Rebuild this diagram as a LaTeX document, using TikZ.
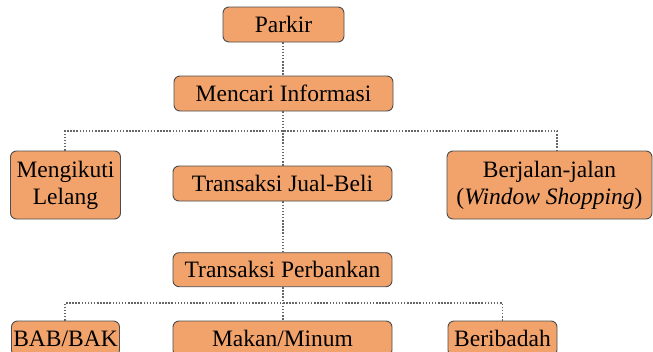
\documentclass[tikz,border=0pt]{standalone}
\usepackage{fontspec}
\setmainfont{Liberation Serif}
\begin{document}
\begin{tikzpicture}[x=1pt,y=-1pt,
  box/.style={draw=black!70, line width=0.9pt, fill=boxfill, rounded corners=6pt,
    inner sep=0pt, align=center, font=\fontsize{23.5}{27}\selectfont},
  link/.style={draw=black!60, line width=1.9pt, dash pattern=on 1.5pt off 1.6pt}]
\definecolor{boxfill}{HTML}{F2A36C}
\useasboundingbox (0,0) rectangle (653,351);
\clip (0,0) rectangle (653,351);
% first tier
\node[box, minimum width=121pt, minimum height=35pt] (parkir) at (283.5,24.5) {Parkir};
\node[box, minimum width=219pt, minimum height=35pt] (info) at (283.5,93.5) {Mencari Informasi};
% second tier
\node[box, minimum width=110pt, minimum height=68pt] (lelang) at (65.5,185) {Mengikuti\\Lelang};
\node[box, minimum width=219pt, minimum height=35pt] (jualbeli) at (282.5,183.5) {Transaksi Jual-Beli};
\node[box, minimum width=205pt, minimum height=68pt] (jalan) at (549.5,185) {Berjalan-jalan\\(\textit{Window Shopping})};
\node[box, minimum width=219pt, minimum height=34pt] (bank) at (282.5,269.7) {Transaksi Perbankan};
% third tier
\node[box, minimum width=108pt, minimum height=35pt] (bab) at (65.5,338.5) {BAB/BAK};
\node[box, minimum width=219pt, minimum height=35pt] (makan) at (282.5,338.5) {Makan/Minum};
\node[box, minimum width=109pt, minimum height=35pt] (ibadah) at (502.5,338.5) {Beribadah};
% junctions of the dotted tree
\coordinate (j1) at (283,131);
\coordinate (j2) at (283,303);
\coordinate (jl) at (65,131);
\coordinate (jr) at (557,131);
\coordinate (kl) at (65,303);
\coordinate (kr) at (502.5,303);
% dotted connectors
\draw[link] (parkir.south -| j1) -- (info.north -| j1);
\draw[link] (info.south -| j1) -- (jualbeli.north -| j1);
\draw[link] (jualbeli.south -| j1) -- (bank.north -| j1);
\draw[link] (lelang.north -| jl) -- (jl) -- (jr) -- (jr |- jalan.north);
\draw[link] (bank.south -| j2) -- (makan.north -| j2);
\draw[link] (bab.north -| kl) -- (kl) -- (kr) -- (ibadah.north -| kr);
\end{tikzpicture}
\end{document}
